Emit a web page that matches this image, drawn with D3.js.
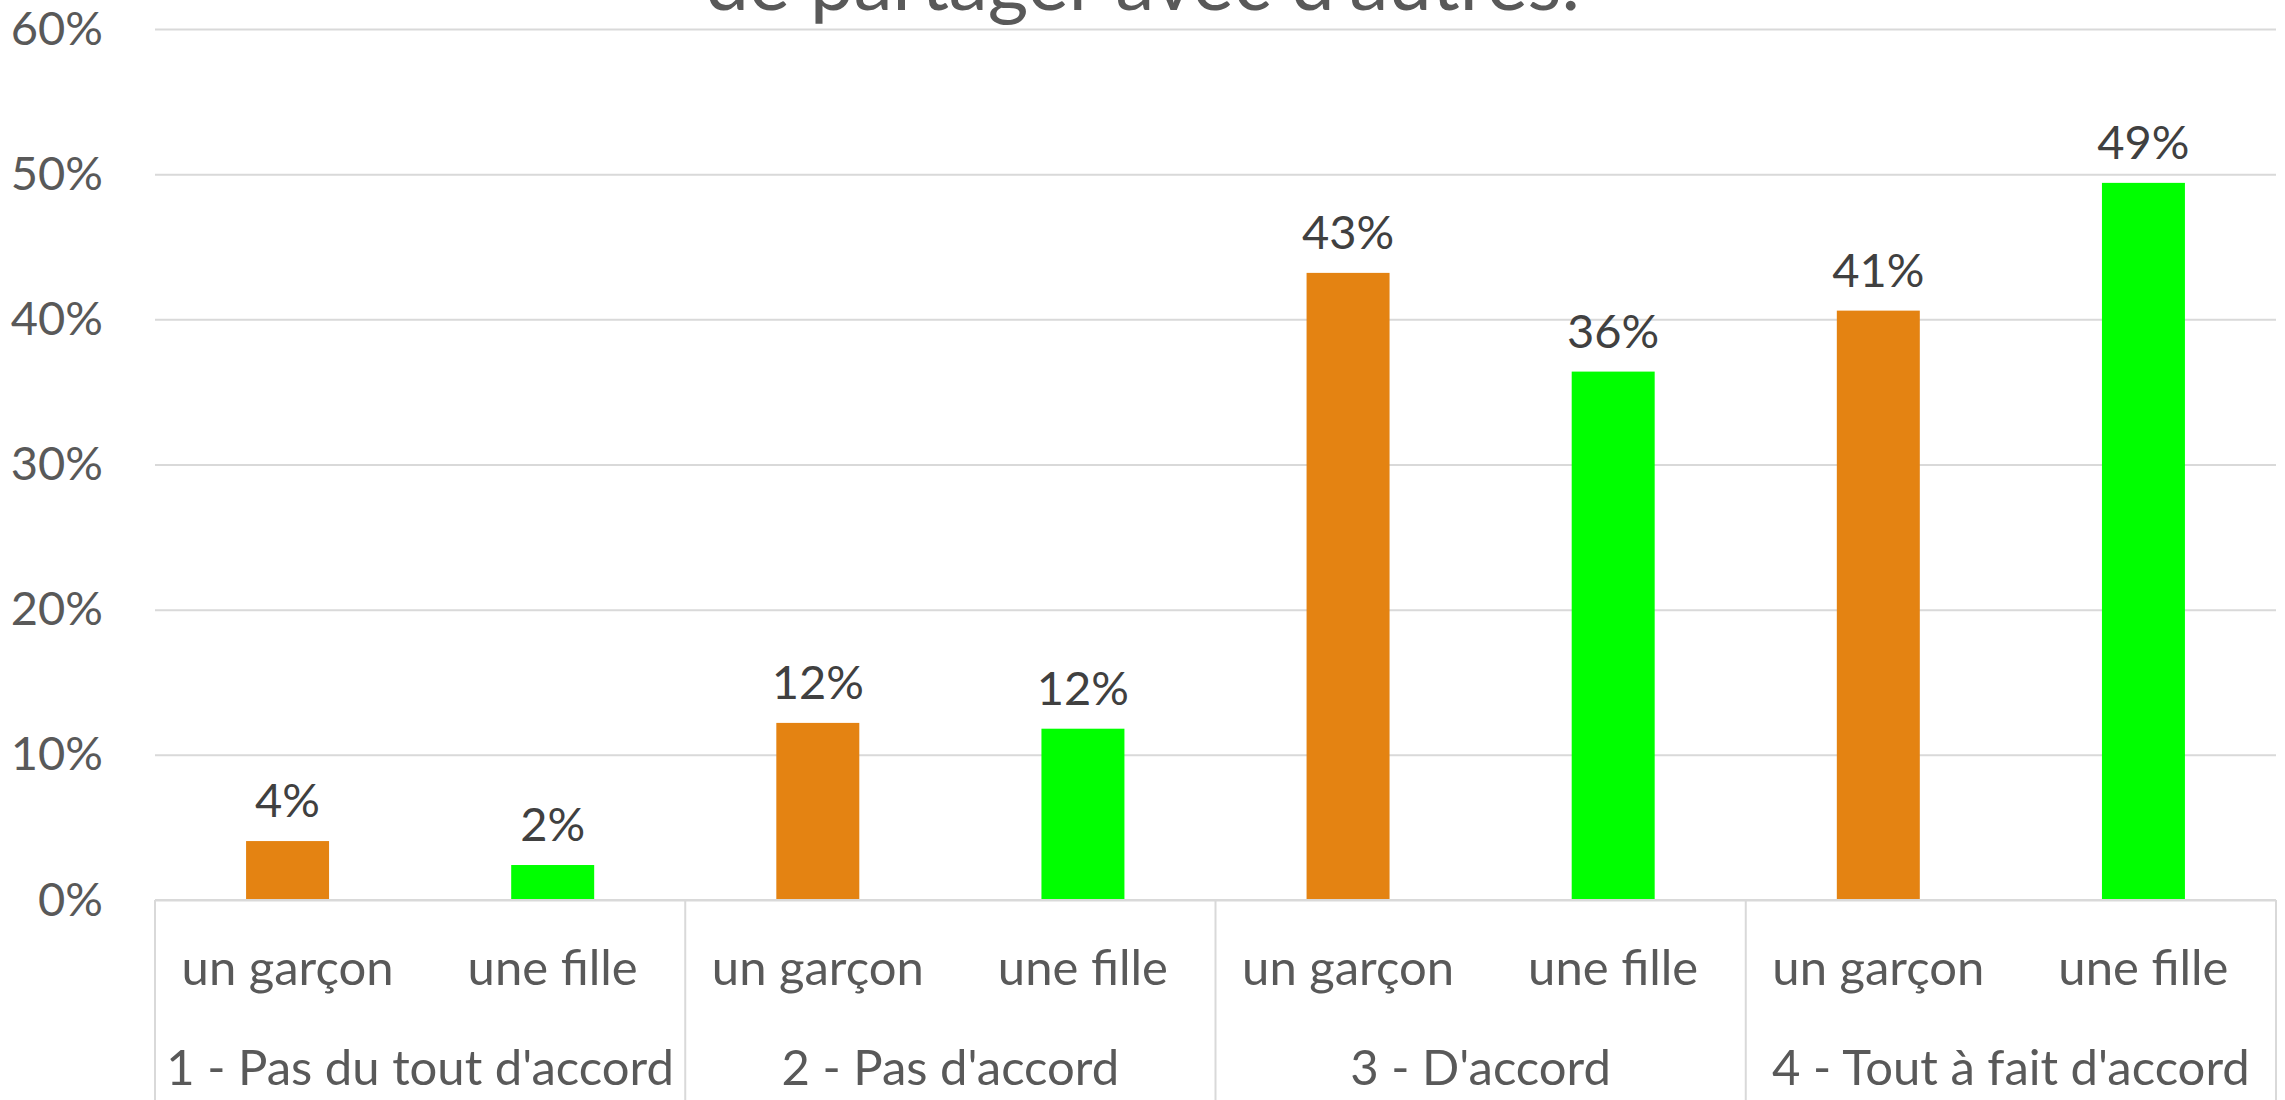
<!DOCTYPE html>
<html>
<head>
<meta charset="utf-8">
<script src="https://cdn.jsdelivr.net/npm/d3@7"></script>
<style>
  body { margin: 0; background: #fff; }
  text { font-family: Lato, "Open Sans", sans-serif; }
</style>
</head>
<body>
<script>
var groups = ["1 - Pas du tout d'accord", "2 - Pas d'accord", "3 - D'accord", "4 - Tout à fait d'accord"]
var genders = ["un garçon", "une fille"]
var garcon = [0.0406, 0.122, 0.432, 0.406]
var fille = [0.0241, 0.118, 0.364, 0.494]
var yTicks = [0, 0.1, 0.2, 0.3, 0.4, 0.5, 0.6]
var colors = ["#E48312", "#00FF00"]

var width = 2285,
    height = 1100
var plotLeft = 155, plotRight = 2276, plotTop = 29, plotBottom = 900

var rows = []
groups.forEach(function (g, i) {
    rows.push({ group: g, gender: genders[0], value: garcon[i], color: colors[0] })
    rows.push({ group: g, gender: genders[1], value: fille[i], color: colors[1] })
})

var svg = d3.select("body").append("svg")
    .attr("width", width)
    .attr("height", height)

var x0 = d3.scaleBand().domain(groups).range([plotLeft, plotRight])
var x1 = d3.scaleBand().domain(genders).range([0, x0.bandwidth()])
var barW = x1.bandwidth() * 0.313
var y = d3.scaleLinear().domain([0, 0.6]).range([plotBottom, plotTop])

/* gridlines + y labels */
var yAxis = svg.append("g")
    .attr("transform", "translate(" + plotLeft + ",0)")
    .call(d3.axisLeft(y).tickValues(yTicks).tickFormat(d3.format(".0%"))
        .tickSize(-(plotRight - plotLeft)).tickPadding(52))
yAxis.select(".domain").remove()
yAxis.selectAll("line").attr("stroke", "#d9d9d9").attr("stroke-width", 2)
yAxis.selectAll("text")
    .attr("fill", "#595959")
    .style("font-size", "47px")
    .style("font-family", "Lato, sans-serif")

/* title (first line cut off at the top) */
svg.append("text")
    .attr("x", width / 2)
    .attr("y", 10)
    .attr("text-anchor", "middle")
    .attr("fill", "#595959")
    .style("font-size", "78px")
    .text("de partager avec d'autres.")

/* bars */
svg.selectAll("rect.bar")
    .data(rows)
    .enter().append("rect")
    .attr("class", "bar")
    .attr("x", function (d) { return x0(d.group) + x1(d.gender) + (x1.bandwidth() - barW) / 2 })
    .attr("y", function (d) { return y(d.value) })
    .attr("width", barW)
    .attr("height", function (d) { return y(0) - y(d.value) })
    .attr("fill", function (d) { return d.color })

/* data labels */
svg.selectAll("text.lbl")
    .data(rows)
    .enter().append("text")
    .attr("class", "lbl")
    .attr("x", function (d) { return x0(d.group) + x1(d.gender) + x1.bandwidth() / 2 })
    .attr("y", function (d) { return y(d.value) - 24 })
    .attr("text-anchor", "middle")
    .attr("fill", "#404040")
    .style("font-size", "47px")
    .text(function (d) { return d3.format(".0%")(d.value) })

/* category box */
svg.append("line")
    .attr("x1", plotLeft).attr("x2", plotRight)
    .attr("y1", plotBottom).attr("y2", plotBottom)
    .attr("stroke", "#d9d9d9").attr("stroke-width", 2)
svg.selectAll("line.sep")
    .data(groups.concat(["end"]))
    .enter().append("line")
    .attr("class", "sep")
    .attr("x1", function (d, i) { return i < groups.length ? x0(d) : plotRight })
    .attr("x2", function (d, i) { return i < groups.length ? x0(d) : plotRight })
    .attr("y1", plotBottom).attr("y2", height)
    .attr("stroke", "#d9d9d9").attr("stroke-width", 2)

svg.selectAll("text.sub")
    .data(rows)
    .enter().append("text")
    .attr("class", "sub")
    .attr("x", function (d) { return x0(d.group) + x1(d.gender) + x1.bandwidth() / 2 })
    .attr("y", 985)
    .attr("text-anchor", "middle")
    .attr("fill", "#595959")
    .style("font-size", "49px")
    .text(function (d) { return d.gender })

svg.selectAll("text.grp")
    .data(groups)
    .enter().append("text")
    .attr("class", "grp")
    .attr("x", function (d) { return x0(d) + x0.bandwidth() / 2 })
    .attr("y", 1085)
    .attr("text-anchor", "middle")
    .attr("fill", "#595959")
    .style("font-size", "49px")
    .text(function (d) { return d })
</script>
</body>
</html>
